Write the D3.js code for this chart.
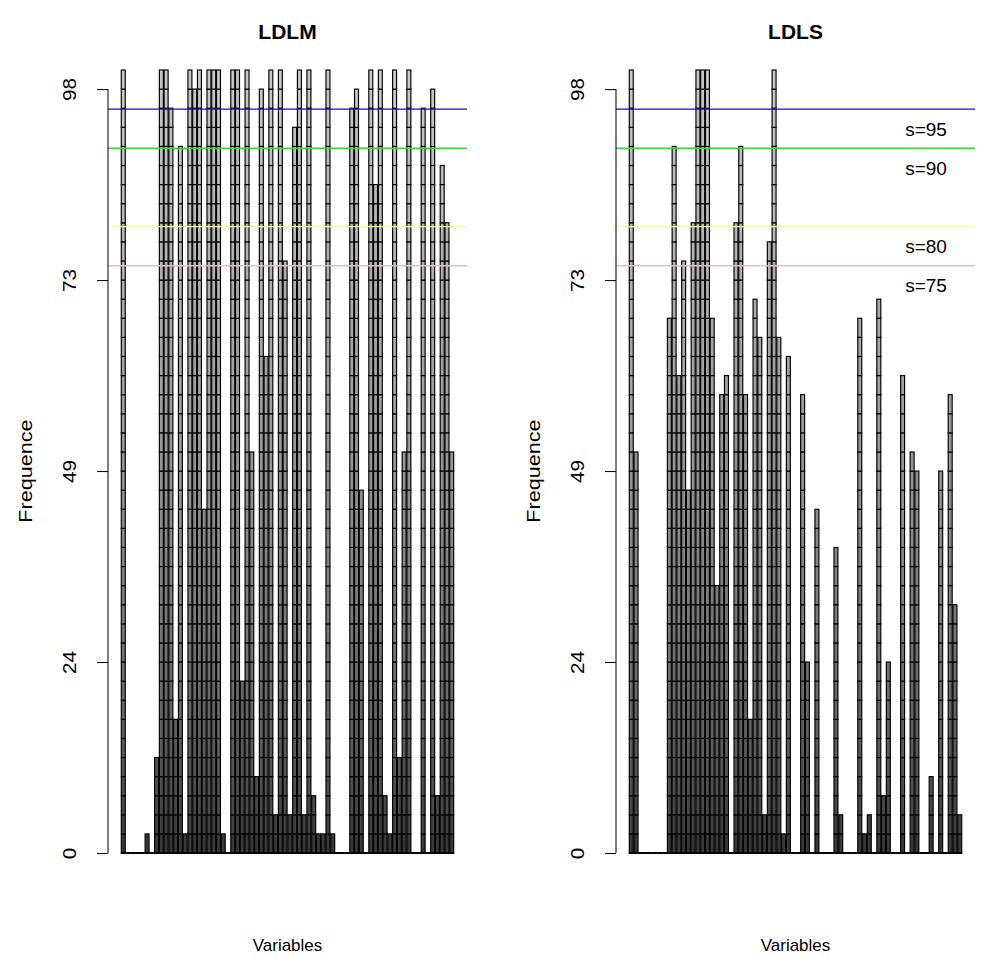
<!DOCTYPE html>
<html>
<head>
<meta charset="utf-8">
<script src="https://cdn.jsdelivr.net/npm/d3@7"></script>
<style>
  body { margin: 0; background: #fff; }
  text { font-family: "Liberation Sans", Arial, Helvetica, sans-serif; }
</style>
</head>
<body>
<div id="chart"></div>
<script>
// number of runs: a full bar is 41 stacked segments (= 100 %)
const runs = 41

const variables = d3.range(1, 71).map(d => "V" + d)

// how many runs selected each variable
const ldlmCounts = [
  41, 0, 0, 0, 0, 1, 0, 5, 41, 41,
  39, 7, 37, 1, 41, 40, 41, 18, 41, 41,
  41, 1, 0, 41, 41, 9, 41, 21, 4, 40,
  26, 41, 2, 41, 31, 2, 38, 41, 2, 41,
  3, 1, 1, 41, 1, 0, 0, 0, 39, 40,
  19, 0, 41, 35, 41, 3, 1, 41, 5, 21,
  41, 0, 0, 39, 0, 40, 3, 36, 33, 21
]
const ldlsCounts = [
  41, 21, 0, 0, 0, 0, 0, 0, 28, 37,
  25, 31, 19, 33, 41, 41, 41, 28, 14, 24,
  25, 0, 33, 37, 24, 7, 29, 27, 2, 32,
  41, 27, 1, 26, 0, 0, 24, 10, 0, 18,
  0, 0, 0, 16, 2, 0, 0, 0, 28, 1,
  2, 0, 29, 3, 10, 0, 0, 25, 0, 21,
  20, 0, 0, 4, 0, 20, 0, 24, 13, 2
]

const yTickValues = [0, 24.39, 48.78, 73.17, 97.56]
const yTickLabels = ["0", "24", "49", "73", "98"]

const thresholds = [95, 90, 80, 75]
const thresholdColors = ["#1010c8", "#3fcf3f", "#fbfbb4", "#f2b8c4"]
const thresholdLabels = ["s=95", "s=90", "s=80", "s=75"]

const panels = [
  { title: "LDLM", counts: ldlmCounts, left: 108, labels: false },
  { title: "LDLS", counts: ldlsCounts, left: 616, labels: true }
]

const config = {
  width: 981,
  height: 957,
  plotWidth: 359,
  top: 70,
  bottom: 853
}

const unit = 100 / runs
const space = 0.2
const n = variables.length
// barplot style x extent, padded by 4 %
const xMin = space, xMax = n * (1 + space)
const pad = (xMax - xMin) * 0.04

const y = d3.scaleLinear().domain([0, 100]).range([config.bottom, config.top])
const gray = d3.scaleLinear().domain([0, runs - 1])
  .range([Math.pow(0.22, 2.2), Math.pow(0.78, 2.2)])

const svg = d3.select("#chart")
  .append("svg")
  .attr("width", config.width)
  .attr("height", config.height)
  .style("background", "#fff")

panels.forEach(p => {
  const x = d3.scaleLinear()
    .domain([xMin - pad, xMax + pad])
    .range([p.left, p.left + config.plotWidth])
  const bw = x(1) - x(0)
  const g = svg.append("g")

  // stacked segments
  const segs = []
  p.counts.forEach((c, i) => {
    for (let k = 0; k < c; k++) segs.push({ i: i, k: k })
  })
  g.selectAll("rect.seg")
    .data(segs)
    .enter()
    .append("rect")
    .attr("class", "seg")
    .attr("x", d => x(space + d.i * (1 + space)))
    .attr("width", bw)
    .attr("y", d => y((d.k + 1) * unit))
    .attr("height", d => y(d.k * unit) - y((d.k + 1) * unit))
    .attr("fill", d => {
      const v = Math.round(255 * Math.pow(gray(d.k), 1 / 2.2))
      return d3.rgb(v, v, v)
    })
    .attr("stroke", "#000")
    .attr("stroke-width", 1.15)

  // zero height rectangles show as a line along the base
  g.selectAll("line.base")
    .data(p.counts)
    .enter()
    .append("line")
    .attr("x1", (d, i) => x(space + i * (1 + space)) - 0.5)
    .attr("x2", (d, i) => x((i + 1) * (1 + space)) + 0.5)
    .attr("y1", y(0))
    .attr("y2", y(0))
    .attr("stroke", "#000")
    .attr("stroke-width", 2)

  // threshold lines
  g.selectAll("line.thr")
    .data(thresholds)
    .enter()
    .append("line")
    .attr("x1", p.left)
    .attr("x2", p.left + config.plotWidth)
    .attr("y1", d => y(d))
    .attr("y2", d => y(d))
    .attr("stroke", (d, i) => thresholdColors[i])
    .attr("stroke-width", 1.4)

  if (p.labels) {
    g.selectAll("text.thr")
      .data(thresholds)
      .enter()
      .append("text")
      .attr("x", p.left + 310)
      .attr("y", d => y(d - 2.5) + 7)
      .attr("text-anchor", "middle")
      .attr("font-size", 19)
      .text((d, i) => thresholdLabels[i])
  }

  // y axis
  const axis = d3.axisLeft(y)
    .tickValues(yTickValues)
    .tickFormat((d, i) => yTickLabels[i])
    .tickSize(11)
    .tickPadding(0)
  const ag = g.append("g")
    .attr("transform", `translate(${p.left},0)`)
    .call(axis)
  ag.select(".domain").remove()
  ag.append("line")
    .attr("y1", y(yTickValues[0]))
    .attr("y2", y(yTickValues[yTickValues.length - 1]))
    .attr("stroke", "#000")
  ag.selectAll(".tick line").attr("stroke", "#000")
  ag.selectAll(".tick text")
    .attr("fill", "#000")
    .attr("font-size", 18)
    .attr("font-family", "Liberation Sans, Arial, sans-serif")
    .attr("x", null)
    .attr("text-anchor", "middle")
    .attr("transform", "translate(-38,0) rotate(-90) scale(1.15,1)")
    .attr("dy", "0.35em")

  const cx = p.left + config.plotWidth / 2
  g.append("text")
    .attr("x", cx)
    .attr("y", 39)
    .attr("text-anchor", "middle")
    .attr("font-size", 21)
    .attr("font-weight", "bold")
    .text(p.title)

  g.append("text")
    .attr("x", cx)
    .attr("y", 951)
    .attr("text-anchor", "middle")
    .attr("font-size", 17)
    .text("Variables")

  g.append("text")
    .attr("transform", `translate(${p.left - 76},${(y(0) + y(97.56)) / 2}) rotate(-90) scale(1.2,1)`)
    .attr("text-anchor", "middle")
    .attr("font-size", 18)
    .text("Frequence")
})
</script>
</body>
</html>
